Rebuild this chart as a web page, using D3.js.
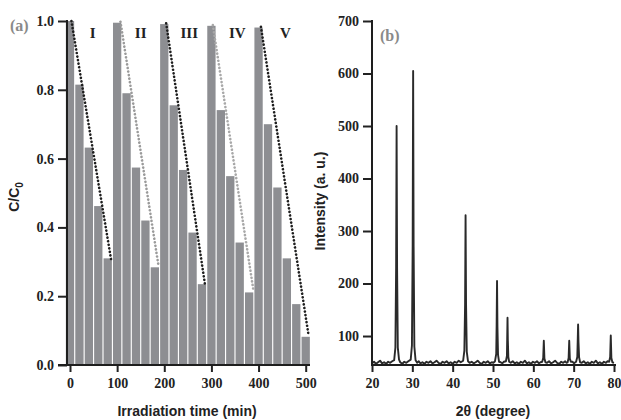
<!DOCTYPE html>
<html>
<head>
<meta charset="utf-8">
<script src="https://cdn.jsdelivr.net/npm/d3@7"></script>
<style>
  body { margin: 0; background: #fff; }
  .tick line { stroke: #222; stroke-width: 2; }
  .lbl { font-family: "Liberation Sans", Arial, sans-serif; font-weight: bold; font-size: 14px; fill: #222; }
  .roman { font-family: "Liberation Serif", "Times New Roman", serif; font-weight: bold; font-size: 15px; fill: #222; }
  .panel { font-family: "Liberation Serif", "Times New Roman", serif; font-weight: bold; font-size: 16px; fill: #8a8a8a; }
</style>
</head>
<body>
<div id="chart"></div>
<script>
// ---- data, panel (a) ----
const times = [0, 20, 40, 60, 80, 100, 120, 140, 160, 180, 200, 220, 240, 260, 280,
               300, 320, 340, 360, 380, 400, 420, 440, 460, 480, 500];
const ratios = [1.0, 0.815, 0.632, 0.462, 0.31,
                0.995, 0.79, 0.574, 0.42, 0.284,
                0.991, 0.755, 0.567, 0.385, 0.235,
                0.986, 0.741, 0.549, 0.356, 0.211,
                0.981, 0.70, 0.516, 0.31, 0.177, 0.082];
const cycleLabels = ["I", "II", "III", "IV", "V"];
const cycleLabelTimes = [48, 150, 253, 355, 457];
// dotted guides: [t0, c0, t1, c1]
const guides = [[3, 1.0, 88, 0.30],
                [107, 0.998, 188, 0.286],
                [204, 0.993, 286, 0.237],
                [303, 0.988, 389, 0.218],
                [405, 0.983, 506, 0.087]];
const guideColors = ["#1e1e1e", "#9a9a9a", "#1e1e1e", "#a8a8a8", "#1e1e1e"];
const timeTicks = [0, 100, 200, 300, 400, 500];
const ratioTicks = [0.0, 0.2, 0.4, 0.6, 0.8, 1.0];

// ---- data, panel (b) XRD ----
const xrd = [
  [20,48],[20.5,51],[21,47],[21.5,50],[22,53],[22.5,48],[23,50],[23.5,47],[24,51],[24.5,49],[25,52],
  [25.5,54],[25.8,78],[25.98,230],[26.1,500],[26.22,230],[26.4,78],[26.7,55],
  [27,50],[27.5,47],[28,51],[28.5,49],[29,52],
  [29.6,55],[29.9,82],[30.08,270],[30.2,605],[30.32,270],[30.5,80],[30.8,54],
  [31.2,49],[31.6,52],[32,48],[32.5,50],[33,47],[33.5,51],[34,49],[34.5,52],[35,48],[35.5,50],
  [36,53],[36.5,49],[37,47],[37.5,51],[38,49],[38.5,52],[39,48],[39.5,50],[40,47],[40.5,51],
  [41,49],[41.5,53],[42,50],
  [42.6,53],[42.9,72],[43.08,160],[43.2,330],[43.32,160],[43.5,70],[43.8,52],
  [44.2,49],[44.7,51],[45.2,48],[45.7,50],[46.2,53],[46.7,49],[47.2,47],[47.7,51],[48.2,49],
  [48.7,52],[49.2,48],[49.7,50],[50.1,49],
  [50.5,52],[50.8,66],[50.9,120],[51.0,205],[51.1,118],[51.25,64],[51.5,51],
  [51.9,50],[52.3,48],[52.7,51],
  [53.2,52],[53.45,62],[53.52,95],[53.6,135],[53.68,92],[53.8,60],[54.0,51],
  [54.4,49],[54.9,52],[55.4,48],[55.9,50],[56.4,47],[56.9,51],[57.4,49],[57.9,53],[58.4,48],
  [58.9,50],[59.4,47],[59.9,51],[60.4,49],[60.9,52],[61.4,48],[61.8,50],
  [62.2,51],[62.45,58],[62.6,91],[62.75,57],[63.0,50],
  [63.4,49],[63.9,52],[64.4,48],[64.9,50],[65.4,53],[65.9,49],[66.4,47],[66.9,51],[67.4,49],
  [67.9,52],[68.2,49],
  [68.5,50],[68.75,58],[68.9,91],[69.05,57],[69.3,51],
  [69.7,51],[70.1,48],
  [70.6,51],[70.9,60],[71.0,90],[71.1,122],[71.2,88],[71.35,59],[71.6,50],
  [72.0,49],[72.5,52],[73,48],[73.5,50],[74,47],[74.5,51],[75,49],[75.5,53],[76,48],[76.5,50],
  [77,47],[77.5,51],[78,49],[78.4,52],
  [78.8,51],[79.05,60],[79.2,101],[79.35,58],[79.6,50],
  [80,49]
];
const angleTicks = [20, 30, 40, 50, 60, 70, 80];
const intensityTicks = [100, 200, 300, 400, 500, 600, 700];

const axisColor = "#1e1e1e",
      tickFont = "'Liberation Serif', 'Times New Roman', serif";

const svg = d3.select("#chart")
  .append("svg")
    .attr("width", 621)
    .attr("height", 420);

// style an axis group: serif bold labels, no domain path
const styleAxis = (sel) => {
  sel.attr("font-family", tickFont)
     .attr("font-size", 14)
     .attr("font-weight", "bold");
  sel.select(".domain").remove();
  sel.selectAll(".tick text").attr("fill", "#222");
};

// ================= panel (a) =================
const xA = d3.scaleLinear().domain([0, 500]).range([70, 305.7]),
      yA = d3.scaleLinear().domain([0, 1]).range([365, 21]);

const barW = 8.3;
svg.append("g")
  .selectAll("rect")
  .data(times)
  .join("rect")
    .attr("x", (d) => xA(d) - barW / 2)
    .attr("y", (d, i) => yA(ratios[i]))
    .attr("width", barW)
    .attr("height", (d, i) => yA(0) - yA(ratios[i]))
    .attr("fill", "#8d8e92");

// dotted guides
svg.append("g")
  .selectAll("line")
  .data(guides)
  .join("line")
    .attr("x1", (d) => xA(d[0]))
    .attr("y1", (d) => yA(d[1]))
    .attr("x2", (d) => xA(d[2]))
    .attr("y2", (d) => yA(d[3]))
    .attr("stroke", (d, i) => guideColors[i])
    .attr("stroke-width", 2.6)
    .attr("stroke-linecap", "round")
    .style("stroke-dasharray", "0.1, 3.5");

// cycle numerals
svg.append("g")
  .selectAll("text")
  .data(cycleLabels)
  .join("text")
    .attr("class", "roman")
    .attr("text-anchor", "middle")
    .attr("x", (d, i) => xA(cycleLabelTimes[i]))
    .attr("y", 38)
    .text((d) => d);

// axes
svg.append("g")
  .attr("transform", "translate(67,0)")
  .call(d3.axisLeft(yA)
          .tickValues(ratioTicks)
          .tickFormat(d3.format(".1f"))
          .tickSize(9)
          .tickPadding(4))
  .call(styleAxis);

svg.append("g")
  .attr("transform", "translate(0,365)")
  .call(d3.axisBottom(xA)
          .tickValues(timeTicks)
          .tickSize(7)
          .tickPadding(6))
  .call(styleAxis);

svg.append("line")
  .attr("x1", 67).attr("y1", 20).attr("x2", 67).attr("y2", 366)
  .attr("stroke", axisColor).attr("stroke-width", 2);
svg.append("line")
  .attr("x1", 58).attr("y1", 365).attr("x2", 310).attr("y2", 365)
  .attr("stroke", axisColor).attr("stroke-width", 2);

svg.append("text")
  .attr("class", "panel")
  .attr("x", 10)
  .attr("y", 31)
  .text("(a)");

svg.append("text")
  .attr("class", "lbl")
  .attr("text-anchor", "middle")
  .attr("transform", "translate(19,197) rotate(-90)")
  .html('C/C<tspan dy="4" font-size="10">0</tspan>');

svg.append("text")
  .attr("class", "lbl")
  .attr("text-anchor", "middle")
  .attr("x", 187)
  .attr("y", 416)
  .text("Irradiation time (min)");

// ================= panel (b) =================
const xB = d3.scaleLinear().domain([20, 80]).range([372, 614]),
      yB = d3.scaleLinear().domain([44.8, 700]).range([365, 21]);

svg.append("path")
  .datum(xrd)
  .attr("fill", "none")
  .attr("stroke", "#2a2a2a")
  .attr("stroke-width", 1.9)
  .attr("stroke-linejoin", "round")
  .attr("d", d3.line()
      .x((d) => xB(d[0]))
      .y((d) => yB(d[1])));

svg.append("g")
  .attr("transform", "translate(372,0)")
  .call(d3.axisLeft(yB)
          .tickValues(intensityTicks)
          .tickSize(9)
          .tickPadding(4))
  .call(styleAxis);

svg.append("g")
  .attr("transform", "translate(0,365)")
  .call(d3.axisBottom(xB)
          .tickValues(angleTicks)
          .tickSize(7)
          .tickPadding(6))
  .call(styleAxis);

svg.append("line")
  .attr("x1", 372).attr("y1", 20).attr("x2", 372).attr("y2", 366)
  .attr("stroke", axisColor).attr("stroke-width", 2);
svg.append("line")
  .attr("x1", 371).attr("y1", 365).attr("x2", 616).attr("y2", 365)
  .attr("stroke", axisColor).attr("stroke-width", 2);

svg.append("text")
  .attr("class", "panel")
  .attr("x", 380)
  .attr("y", 41)
  .text("(b)");

svg.append("text")
  .attr("class", "lbl")
  .attr("text-anchor", "middle")
  .attr("transform", "translate(325,201) rotate(-90)")
  .text("Intensity (a. u.)");

svg.append("text")
  .attr("class", "lbl")
  .attr("text-anchor", "middle")
  .attr("x", 493)
  .attr("y", 416)
  .text("2θ (degree)");
</script>
</body>
</html>
